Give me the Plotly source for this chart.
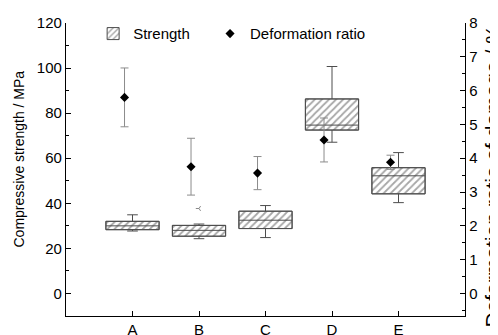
import plotly.graph_objects as go

categories = ["A", "B", "C", "D", "E"]
positions = [1, 2, 3, 4, 5]

# Compressive strength box statistics (MPa)
strength_lower = [27.7, 24.3, 24.8, 67.1, 40.3]
strength_q1 = [28.3, 25.4, 28.8, 72.5, 44.2]
strength_median = [30.0, 28.0, 32.5, 74.7, 52.2]
strength_q3 = [32.0, 30.2, 36.5, 86.3, 55.8]
strength_upper = [34.9, 30.8, 39.0, 100.7, 62.5]
outlier_x = [2]
outlier_y = [37.7]

# Deformation ratio of damage (%)
deform_mean = [5.80, 3.75, 3.56, 4.54, 3.88]
deform_err = [0.87, 0.84, 0.49, 0.65, 0.21]

FONT = "Liberation Sans, Arial, sans-serif"
BOX_W = 0.8
DX = -0.12

fig = go.Figure()

fig.add_trace(go.Bar(
    x=positions,
    base=strength_q1,
    y=[q3 - q1 for q1, q3 in zip(strength_q1, strength_q3)],
    width=BOX_W,
    name="Strength",
    legend="legend",
    marker=dict(
        color="white",
        line=dict(color="#4d4d4d", width=1),
        pattern=dict(shape="/", fgcolor="#4d4d4d", bgcolor="white", size=5, solidity=0.35),
    ),
    hoverinfo="skip",
))

fig.add_trace(go.Box(
    x=positions,
    q1=strength_q1,
    median=strength_median,
    q3=strength_q3,
    lowerfence=strength_lower,
    upperfence=strength_upper,
    width=BOX_W,
    whiskerwidth=0.2,
    fillcolor="rgba(0,0,0,0)",
    line=dict(color="#4d4d4d", width=1),
    showlegend=False,
    boxpoints=False,
))

fig.add_trace(go.Scatter(
    x=outlier_x, y=outlier_y, mode="markers",
    marker=dict(symbol="y-left-open", size=4, color="#888888", line=dict(color="#888888", width=1)),
    showlegend=False,
))

fig.add_trace(go.Scatter(
    x=[p + DX for p in positions],
    y=deform_mean,
    yaxis="y2",
    mode="markers",
    name="Deformation ratio",
    legend="legend2",
    marker=dict(symbol="diamond", size=7, color="black"),
    error_y=dict(type="data", array=deform_err, color="#8c8c8c", thickness=1, width=4),
))

# page body has an 8px margin: figure is sized to fill the rest of the window
fig.update_layout(
    width=490, height=327,
    margin=dict(l=58, r=33, t=9, b=19),
    paper_bgcolor="white", plot_bgcolor="white",
    font=dict(family=FONT, size=15, color="black"),
    showlegend=True,
    legend=dict(
        orientation="h", x=0.068, xanchor="left", y=0.963, yanchor="middle",
        font=dict(size=15), bgcolor="rgba(0,0,0,0)",
    ),
    legend2=dict(
        orientation="h", x=0.361, xanchor="left", y=0.963, yanchor="middle",
        font=dict(size=15), bgcolor="rgba(0,0,0,0)",
    ),
    xaxis=dict(
        range=[0, 6], tickvals=positions, ticktext=categories,
        showline=True, linecolor="black", linewidth=1.3,
        ticks="inside", ticklen=5, tickcolor="black",
        showgrid=False, zeroline=False, automargin=False,
    ),
    yaxis=dict(
        range=[-10, 120], tickvals=[0, 20, 40, 60, 80, 100, 120],
        showline=True, linecolor="black", linewidth=1.3,
        ticks="inside", ticklen=5, tickcolor="black",
        minor=dict(dtick=10, ticks="inside", ticklen=3, tickcolor="black"),
        showgrid=False, zeroline=False, automargin=False,
    ),
    yaxis2=dict(
        overlaying="y", side="right",
        range=[-2/3, 8], tickvals=[0, 1, 2, 3, 4, 5, 6, 7, 8],
        showline=True, linecolor="black", linewidth=1.3,
        ticks="inside", ticklen=5, tickcolor="black",
        minor=dict(dtick=0.5, ticks="inside", ticklen=3, tickcolor="black"),
        showgrid=False, zeroline=False, automargin=False,
    ),
    annotations=[
        dict(
            text="Compressive strength / MPa",
            xref="paper", yref="paper", x=0, y=0.5,
            xanchor="center", yanchor="middle", xshift=-48, yshift=10,
            textangle=-90, showarrow=False, font=dict(size=14),
        ),
        dict(
            text="Deformation ratio of damage / %",
            xref="paper", yref="paper", x=1, y=0.5,
            xanchor="center", yanchor="middle", xshift=27, yshift=-7,
            textangle=-90, showarrow=False, font=dict(size=21),
        ),
    ],
)

fig.write_html("out.html")
